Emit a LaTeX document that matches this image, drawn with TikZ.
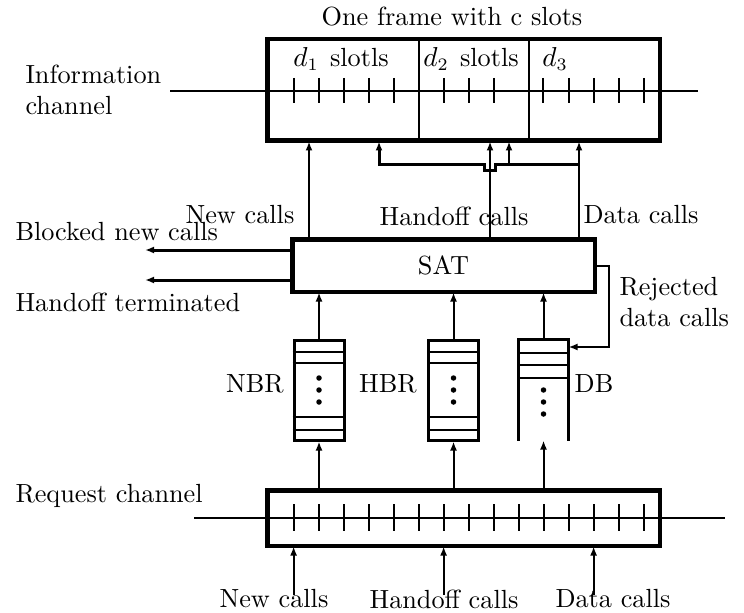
\documentclass[tikz,border=0pt]{standalone}
\usetikzlibrary{arrows.meta}
\begin{document}
\begin{tikzpicture}[x=0.4pt,y=-0.4pt,
  font=\fontsize{10.5}{12.6}\selectfont,
  thinline/.style={line width=0.8pt},
  thickline/.style={line width=1.2pt},
  box/.style={draw,line width=1.2pt,inner sep=0pt,rectangle},
  ghost/.style={inner sep=0pt,rectangle},
  arr/.style={-{Latex[length=3.6pt,width=2.8pt]}},
  lbl/.style={inner sep=0pt,anchor=center},
  dotmark/.style={circle,fill,inner sep=0pt,minimum size=2.2pt}]
\useasboundingbox (0,0) rectangle (744,612);

% ---------- boxes ----------
\node[box,minimum width=156.4pt,minimum height=40pt] (info) at (463.5,90) {};
\node[box,minimum width=120.4pt,minimum height=20.4pt] (sat) at (443.5,265.5) {SAT};
\node[box,minimum width=20pt,minimum height=40pt] (nbr) at (319,390) {};
\node[box,minimum width=20pt,minimum height=40pt] (hbr) at (453.5,390) {};
\node[ghost,minimum width=19.6pt,minimum height=40pt] (db) at (543.5,390) {};
\node[box,minimum width=156.4pt,minimum height=21.6pt] (req) at (463.5,518) {};

% ---------- information channel ----------
\coordinate (icl) at (170,91);
\coordinate (icr) at (698,91);
\draw[thinline] (icl) -- (info.west |- icl);
\draw[thinline] (info.west |- icl) -- (info.east |- icl);
\draw[thinline] (info.east |- icl) -- (icr);
\foreach \t in {294,319,344,369,394,444,469,494,543,569,594,619,644}
  \draw[thinline] (\t,78) -- (\t,103);
\draw[thinline] (419,40) -- (419,140);
\draw[thinline] (529,40) -- (529,140);

% ---------- request channel ----------
\coordinate (rcl) at (194,518);
\coordinate (rcr) at (725,518);
\draw[thinline] (rcl) -- (rcr);
\foreach \k in {0,...,14}
  \draw[thinline] (293.6+25*\k,504) -- (293.6+25*\k,531);
\draw[box] (req.north west) rectangle (req.south east);

% ---------- buffers ----------
\foreach \b in {nbr,hbr}{
  \draw[thinline] ([yshift=-5.2pt]\b.north west) -- ([yshift=-5.2pt]\b.north east);
  \draw[thinline] ([yshift=-9.6pt]\b.north west) -- ([yshift=-9.6pt]\b.north east);
  \draw[thinline] ([yshift=10pt]\b.south west) -- ([yshift=10pt]\b.south east);
  \draw[thinline] ([yshift=4.8pt]\b.south west) -- ([yshift=4.8pt]\b.south east);
  \node[dotmark] at ([yshift=4.8pt]\b.center) {};
  \node[dotmark] at (\b.center) {};
  \node[dotmark] at ([yshift=-4.8pt]\b.center) {};
}
\draw[thickline] (db.south west) -- (db.north west) -- (db.north east) -- (db.south east);
\draw[thinline] ([yshift=-5.2pt]db.north west) -- ([yshift=-5.2pt]db.north east);
\draw[thinline] ([yshift=-10pt]db.north west) -- ([yshift=-10pt]db.north east);
\draw[thinline] ([yshift=-15.2pt]db.north west) -- ([yshift=-15.2pt]db.north east);
\node[dotmark] (dba) at ([yshift=0pt]db.center) {};
\node[dotmark] (dbb) at ([yshift=-4.8pt]db.center) {};
\node[dotmark] (dbc) at ([yshift=-9.6pt]db.center) {};

% ---------- inputs into the request channel ----------
\coordinate (inN) at (293.6,595);
\coordinate (inH) at (443.6,595);
\coordinate (inD) at (593.6,595);
\draw[thinline,arr] (inN) -- (inN |- req.south);
\draw[thinline,arr] (inH) -- (inH |- req.south);
\draw[thinline,arr] (inD) -- (inD |- req.south);

% ---------- request channel to buffers ----------
\draw[thinline,arr] (req.north -| nbr.south) -- (nbr.south);
\draw[thinline,arr] (req.north -| hbr.south) -- (hbr.south);
\draw[thinline,arr] (req.north -| db.south) -- (db.south);

% ---------- buffers to SAT ----------
\draw[thinline,arr] (nbr.north) -- (sat.south -| nbr.north);
\draw[thinline,arr] (hbr.north) -- (sat.south -| hbr.north);
\draw[thinline,arr] (db.north) -- (sat.south -| db.north);

% ---------- SAT outputs ----------
\coordinate (xN) at (309,0);
\coordinate (xH) at (490,0);
\coordinate (xD) at (579,0);
\coordinate (xD1) at (379,0);
\coordinate (xD2) at (509,0);
\draw[thinline,arr] (sat.north -| xN) -- (info.south -| xN);
\draw[thinline,arr] (sat.north -| xH) -- (info.south -| xH);
\draw[thinline,arr] (sat.north -| xD) -- (info.south -| xD);
\coordinate (bus) at (579,165);
\draw[thickline,arr,line join=miter] (bus) -- (495,165) -- (495,171) -- (484,171) -- (484,165)
  -- (xD1 |- bus) -- (info.south -| xD1);
\draw[thinline,arr] (xD2 |- bus) -- (info.south -| xD2);

% ---------- blocked / terminated ----------
\coordinate (blk) at (145,250);
\coordinate (trm) at (145,280);
\draw[thickline,arr] (sat.west |- blk) -- (blk);
\draw[thickline,arr] (sat.west |- trm) -- (trm);

% ---------- rejected data calls ----------
\coordinate (rj) at (609,0);
\draw[thinline,arr] (sat.east) -- (rj |- sat.east) -- (609,347) -- (db.east |- 0,347);
\draw[box] (sat.north west) rectangle (sat.south east);
\draw[box] (info.north west) rectangle (info.south east);

% ---------- labels ----------
\node[lbl] (ttl) at (452,17) {One frame with c slots};
\node[lbl] (d1) at (341,59) {$d_1$\hspace{4.5pt}slotls};
\node[lbl] (d2) at (471,59) {$d_2$\hspace{4.5pt}slotls};
\node[lbl] (d3) at (555,59) {$d_3$};
\node[lbl,anchor=west,align=left] (icname) at (25,90) {Information\\[0pt]channel};
\node[lbl] (lN) at (240,215) {New calls};
\node[lbl] (lH) at (454,216) {Handoff calls};
\node[lbl] (lD) at (641,215) {Data calls};
\node[lbl,anchor=west] (lblk) at (15,232) {Blocked new calls};
\node[lbl,anchor=west] (ltrm) at (15,302) {Handoff terminated};
\node[lbl,anchor=west,align=left] (lrj) at (619,302) {Rejected\\[0pt]data calls};
\node[lbl] (lnbr) at (255,384) {NBR};
\node[lbl] (lhbr) at (388,384) {HBR};
\node[lbl] (ldb) at (594,384) {DB};
\node[lbl,anchor=west] (lrc) at (15,496) {Request channel};
\node[lbl] (bN) at (274,599) {New calls};
\node[lbl] (bH) at (444,599) {Handoff calls};
\node[lbl] (bD) at (613,599) {Data calls};
\end{tikzpicture}
\end{document}
